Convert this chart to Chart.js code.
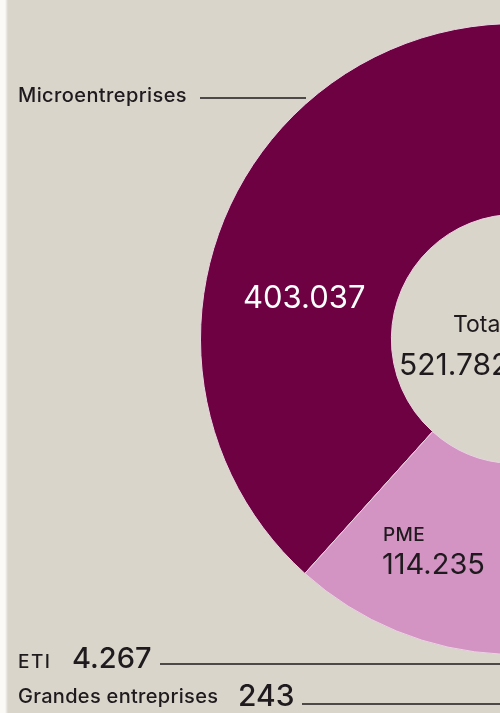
<!DOCTYPE html>
<html lang="fr">
<head>
<meta charset="utf-8">
<title>Entreprises par catégorie</title>
<script src="https://cdn.jsdelivr.net/npm/chart.js@4/dist/chart.umd.min.js"></script>
<style>
  html, body { margin: 0; padding: 0; }
  body { width: 500px; height: 713px; overflow: hidden; background: #fff; }
  .frame {
    position: relative; width: 500px; height: 713px; overflow: hidden;
    background: linear-gradient(to right, #fbfaf7 0, #fbfaf7 5px, #d9d5ca 8px, #d9d5ca 100%);
  }
  #donut { position: absolute; left: 0; top: 0; }
</style>
</head>
<body>
<div class="frame">
  <canvas id="donut" width="840" height="713"></canvas>
</div>
<script>
/* data */
const categories = ['Microentreprises', 'ETI', 'Grandes entreprises', 'PME'];
const values = [403037, 4267, 243, 114235];
const colors = ['#6d0141', '#6d0141', '#6d0141', '#d394c4'];
const totalLabel = 'Total';

const total = values.reduce((a, b) => a + b, 0);
const fmt = v => String(v).replace(/\B(?=(\d{3})+(?!\d))/g, '.');

const INK = '#1f1a1e';
const FONT = 'Inter, "Liberation Sans", sans-serif';

function text(ctx, str, x, y, size, color, weight, spacing) {
    ctx.font = `${weight || 400} ${size}px ${FONT}`;
    ctx.letterSpacing = spacing || '0px';
    ctx.fillStyle = color;
    ctx.fillText(str, x, y);
}

function rule(ctx, x1, x2, y) {
    ctx.beginPath();
    ctx.moveTo(x1, y);
    ctx.lineTo(x2, y);
    ctx.lineWidth = 1.6;
    ctx.strokeStyle = INK;
    ctx.stroke();
}

// labels and leader lines, printed around the ring
const annotate = {
    id: 'annotate',
    afterDraw(chart) {
        const ctx = chart.ctx;
        ctx.save();
        ctx.textBaseline = 'alphabetic';
        ctx.textAlign = 'left';

        // Microentreprises
        text(ctx, categories[0], 18, 102, 20, INK, 500, '0.4px');
        rule(ctx, 200, 306, 98);
        text(ctx, fmt(values[0]), 243, 308, 31, '#ffffff');

        // total in the hole
        text(ctx, totalLabel, 453, 332, 23, INK);
        text(ctx, fmt(total), 399, 375, 30, INK);

        // PME
        text(ctx, categories[3], 383, 541, 19, INK, 500, '0.4px');
        text(ctx, fmt(values[3]), 382, 574, 29, INK);

        // ETI
        text(ctx, categories[1], 18, 668, 19, INK, 500, '1.5px');
        text(ctx, fmt(values[1]), 72, 668, 29, INK, 500);
        rule(ctx, 160, 520, 664);

        // Grandes entreprises
        text(ctx, categories[2], 18, 703, 20, INK, 500, '0.3px');
        text(ctx, fmt(values[2]), 238, 706, 30, INK, 500);
        rule(ctx, 302, 520, 704);

        ctx.restore();
    }
};

new Chart(document.getElementById('donut').getContext('2d'), {
    type: 'doughnut',
    data: {
        labels: categories,
        datasets: [{
            data: values,
            backgroundColor: colors,
            borderColor: '#e9d3e2',
            borderWidth: 1
        }]
    },
    options: {
        responsive: false,
        animation: false,
        rotation: 222,
        cutout: '39.5%',
        layout: { padding: { left: 200, top: 23, right: 8, bottom: 58 } },
        plugins: { legend: { display: false }, tooltip: { enabled: false } }
    },
    plugins: [annotate]
});
</script>
</body>
</html>
